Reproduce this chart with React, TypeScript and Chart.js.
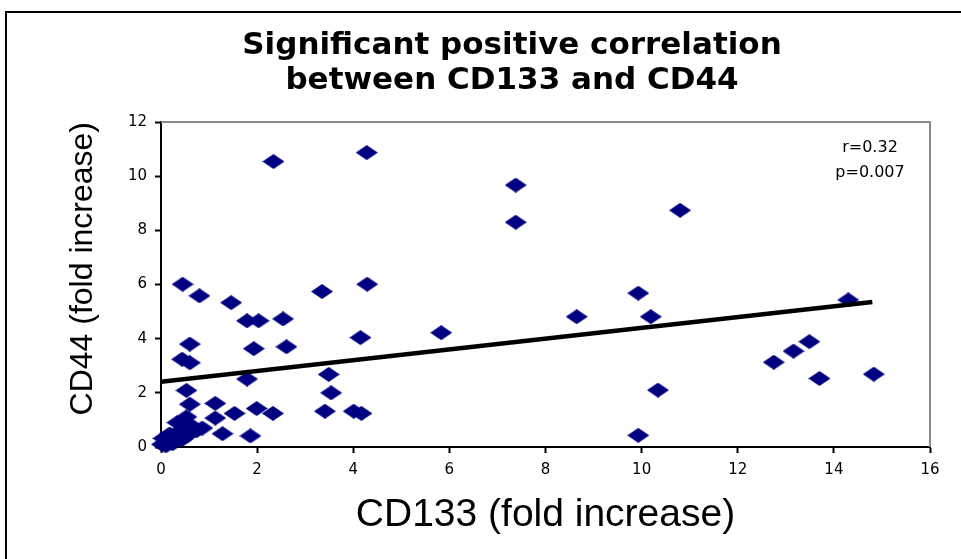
import { useEffect, useRef } from 'react';
import { Chart, registerables } from 'chart.js';

Chart.register(...registerables);

const titleLines = ['Significant positive correlation', 'between CD133 and CD44'];
const xAxisTitle = 'CD133 (fold increase)';
const yAxisTitle = 'CD44 (fold increase)';
const annotationLines = ['r=0.32', 'p=0.007'];

const xMin = 0;
const xMax = 16;
const xStep = 2;
const yMin = 0;
const yMax = 12;
const yStep = 2;

// CD133 fold increase (x) for each sample
const cd133 = [
  0.02, 0.05, 0.1, 0.14, 0.18, 0.24, 0.28, 0.34, 0.38, 0.44, 0.5, 0.56, 0.64, 0.74, 0.86,
  0.53, 1.13, 0.6, 1.13, 0.53, 0.44, 0.6, 0.6, 0.45, 0.8,
  1.28, 1.86, 1.53, 1.99, 2.33, 1.79, 1.93, 2.61, 1.79, 2.03, 2.54, 1.46, 2.34,
  3.35, 4.29, 4.15, 5.83, 3.49, 3.54, 3.41, 4.01, 4.17, 4.28,
  7.38, 7.38, 10.8, 8.65, 9.93, 10.19, 10.34, 9.93,
  12.75, 13.16, 13.49, 13.7, 14.83, 14.3,
];

// CD44 fold increase (y) for each sample
const cd44 = [
  0.1, 0.32, 0.04, 0.22, 0.48, 0.12, 0.36, 0.9, 0.58, 0.28, 0.68, 0.44, 0.78, 0.6, 0.7,
  1.11, 1.07, 1.58, 1.61, 2.09, 3.24, 3.11, 3.8, 6.01, 5.58,
  0.49, 0.41, 1.24, 1.42, 1.24, 2.51, 3.63, 3.7, 4.66, 4.66, 4.73, 5.33, 10.54,
  5.74, 6.01, 4.04, 4.22, 2.68, 2.0, 1.32, 1.32, 1.24, 10.87,
  9.67, 8.3, 8.74, 4.81, 5.68, 4.81, 2.1, 0.43,
  3.13, 3.54, 3.89, 2.53, 2.69, 5.43,
];

// Linear trend line end points
const fitX = [0, 14.8];
const fitY = [2.41, 5.35];

function makeDiamond(w: number, h: number, color: string) {
  const c = document.createElement('canvas');
  c.width = w;
  c.height = h;
  const ctx = c.getContext('2d')!;
  ctx.fillStyle = color;
  ctx.beginPath();
  ctx.moveTo(w / 2, 0);
  ctx.lineTo(w, h / 2);
  ctx.lineTo(w / 2, h);
  ctx.lineTo(0, h / 2);
  ctx.closePath();
  ctx.fill();
  return c;
}

const framePlugin = {
  id: 'frameAndNotes',
  beforeDatasetsDraw(chart: any) {
    const { ctx, chartArea } = chart;
    ctx.save();
    ctx.strokeStyle = '#888888';
    ctx.lineWidth = 2;
    ctx.beginPath();
    ctx.moveTo(chartArea.left, chartArea.top);
    ctx.lineTo(chartArea.right, chartArea.top);
    ctx.lineTo(chartArea.right, chartArea.bottom);
    ctx.stroke();
    ctx.restore();
  },
  afterDraw(chart: any) {
    const { ctx, chartArea } = chart;
    ctx.save();
    ctx.font = '16px "DejaVu Sans"';
    ctx.fillStyle = '#000';
    ctx.textAlign = 'center';
    ctx.textBaseline = 'middle';
    annotationLines.forEach((t, i) => {
      ctx.fillText(t, chartArea.right - 60, chartArea.top + 26 + i * 25);
    });
    ctx.restore();
  },
};

export default function App() {
  const canvasRef = useRef<HTMLCanvasElement | null>(null);

  useEffect(() => {
    const canvas = canvasRef.current;
    if (!canvas) return;
    const diamond = makeDiamond(22, 15, '#000080');
    const points = cd133.map((x, i) => ({ x, y: cd44[i] }));
    const fit = fitX.map((x, i) => ({ x, y: fitY[i] }));

    const chart = new Chart(canvas, {
      type: 'scatter',
      data: {
        datasets: [
          {
            type: 'line',
            data: fit,
            borderColor: '#000',
            borderWidth: 4.5,
            pointRadius: 0,
            tension: 0,
            fill: false,
          } as any,
          {
            data: points,
            pointStyle: diamond as any,
            pointRadius: 8,
            backgroundColor: '#000080',
            borderColor: '#000080',
            clip: false as any,
          },
        ],
      },
      options: {
        animation: false,
        responsive: false,
        events: [],
        layout: { padding: { left: 94, right: 31, top: 0, bottom: 0 } },
        plugins: {
          legend: { display: false },
          tooltip: { enabled: false },
          title: {
            display: true,
            text: titleLines,
            color: '#000',
            font: { family: 'DejaVu Sans', weight: 'bold', size: 31, lineHeight: '35px' } as any,
            padding: { top: 28.5, bottom: 23.5 },
          },
        },
        scales: {
          x: {
            type: 'linear',
            min: xMin,
            max: xMax,
            afterFit: (s: any) => {
              s.height = 112;
            },
            ticks: {
              stepSize: xStep,
              color: '#000',
              padding: 8,
              font: { family: 'DejaVu Sans', size: 15 },
            },
            grid: {
              drawOnChartArea: false,
              drawTicks: true,
              tickLength: 6,
              tickColor: '#000',
              tickWidth: 2,
            },
            border: { display: true, color: '#000', width: 2 },
            title: {
              display: true,
              text: xAxisTitle,
              color: '#000',
              font: { family: 'Liberation Sans', size: 39 },
              padding: { top: 0, bottom: 20 },
            },
          },
          y: {
            type: 'linear',
            min: yMin,
            max: yMax,
            afterFit: (s: any) => {
              s.width = 67;
            },
            ticks: {
              stepSize: yStep,
              color: '#000',
              padding: 8,
              font: { family: 'DejaVu Sans', size: 15 },
            },
            grid: {
              drawOnChartArea: false,
              drawTicks: true,
              tickLength: 6,
              tickColor: '#000',
              tickWidth: 2,
            },
            border: { display: true, color: '#000', width: 2 },
            title: {
              display: true,
              text: yAxisTitle,
              align: 'end',
              color: '#000',
              font: { family: 'Liberation Sans', size: 32 },
              padding: { top: -30, bottom: 0 },
            },
          },
        },
      },
      plugins: [framePlugin],
    });
    return () => chart.destroy();
  }, []);

  return (
    <div
      style={{
        position: 'fixed',
        left: 0,
        top: 0,
        width: 961,
        height: 559,
        overflow: 'hidden',
        background: '#fff',
      }}
    >
      <div
        style={{
          position: 'absolute',
          left: 5,
          top: 11,
          width: 1000,
          height: 600,
          border: '2px solid #000',
        }}
      />
      <canvas
        ref={canvasRef}
        width={961}
        height={559}
        style={{ position: 'absolute', left: 0, top: 0, width: 961, height: 559 }}
      />
    </div>
  );
}
